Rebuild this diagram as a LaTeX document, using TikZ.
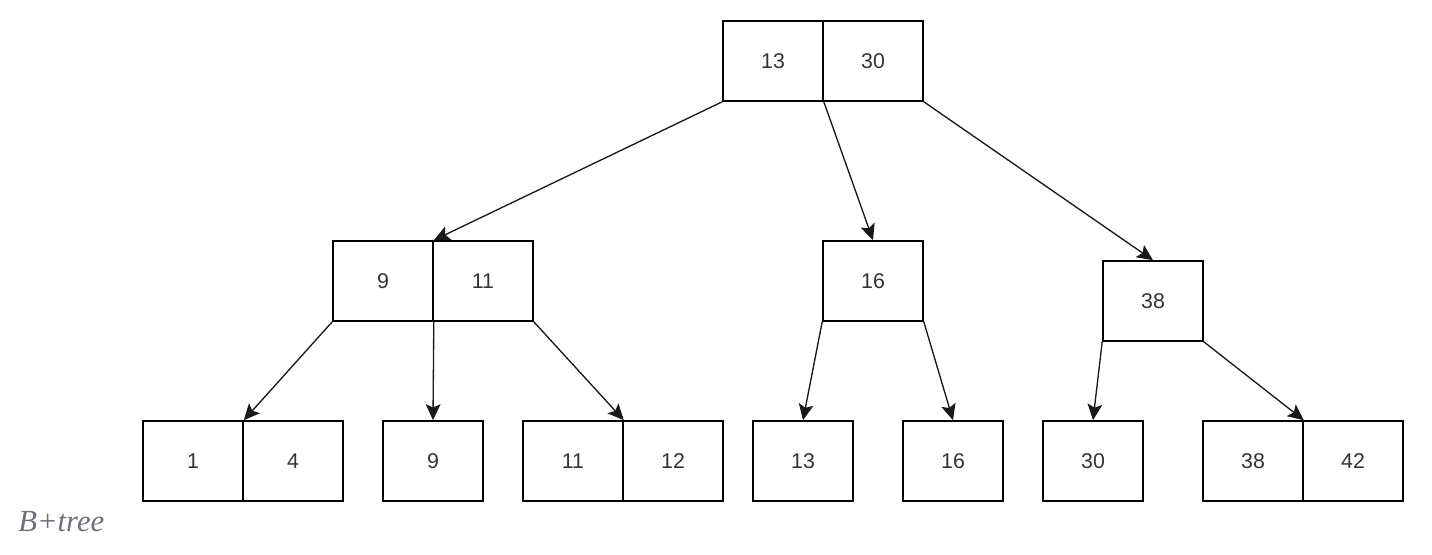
\documentclass[tikz,border=0pt]{standalone}
\usepackage{fontspec}
\setmainfont{Liberation Sans}
\newfontfamily\capfont{Liberation Serif}
\usetikzlibrary{arrows.meta}
\definecolor{txt}{HTML}{333333}
\definecolor{capgray}{HTML}{6B7079}
\tikzset{
  cell/.style={draw=black, line width=1.2pt, rectangle, minimum width=75pt, minimum height=60pt, inner sep=0pt, text=txt, font=\fontsize{16}{19}\selectfont},
  link/.style={draw=black!90, line width=1pt, -{Stealth[length=12pt,width=11pt,inset=2.5pt]}},
}
\begin{document}
\begin{tikzpicture}[x=0.75pt,y=-0.75pt]
\useasboundingbox (0,0) rectangle (1432,554);
% root
\node[cell] (r1) at (773,61) {13};
\node[cell] (r2) at (873,61) {30};
% level 2
\node[cell] (l1) at (383,281) {9};
\node[cell] (l2) at (483,281) {11};
\node[cell] (m) at (873,281) {16};
\node[cell] (rt) at (1153,301) {38};
% leaves
\node[cell] (a1) at (193,461) {1};
\node[cell] (a2) at (293,461) {4};
\node[cell] (b) at (433,461) {9};
\node[cell] (c1) at (573,461) {11};
\node[cell] (c2) at (673,461) {12};
\node[cell] (d) at (803,461) {13};
\node[cell] (e) at (953,461) {16};
\node[cell] (f) at (1093,461) {30};
\node[cell] (g1) at (1253,461) {38};
\node[cell] (g2) at (1353,461) {42};
% links
\draw[link] (r1.south west) -- (l1.north east);
\draw[link] (r1.south east) -- (m.north);
\draw[link] (r2.south east) -- (rt.north);
\draw[link] (l1.south west) -- (a1.north east);
\draw[link] (l1.south east) -- (b.north);
\draw[link] (l2.south east) -- (c1.north east);
\draw[link] (m.south west) -- (d.north);
\draw[link] (m.south east) -- (e.north);
\draw[link] (rt.south west) -- (f.north);
\draw[link] (rt.south east) -- (g1.north east);
% caption
\node[anchor=base west, inner sep=0pt, text=capgray, font=\capfont\itshape\fontsize{23}{27}\selectfont] (cap) at (18,531) {B+tree};
\end{tikzpicture}
\end{document}
